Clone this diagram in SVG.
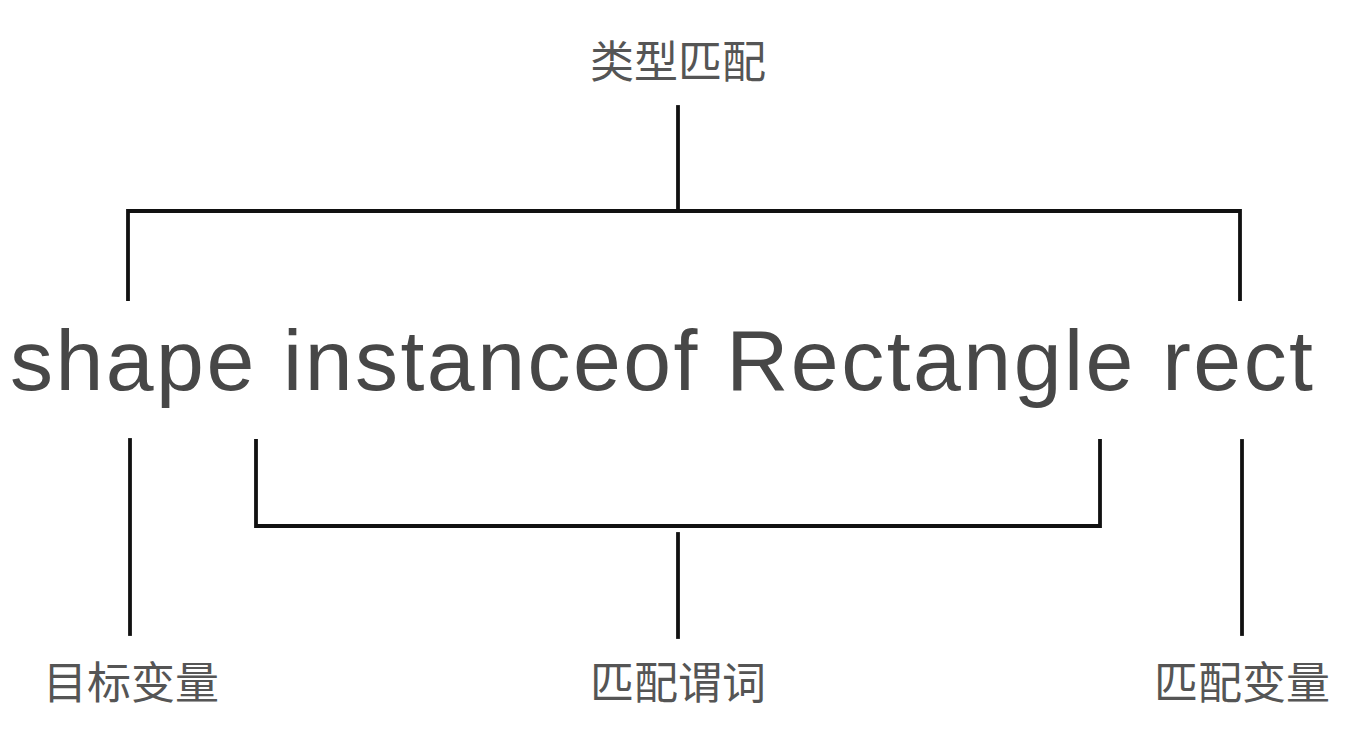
<svg xmlns="http://www.w3.org/2000/svg" width="1357" height="732" viewBox="0 0 1357 732">
<style>
.lbl{font-family:"Noto Sans CJK SC","Noto Sans",sans-serif;font-size:44px;fill:#555;text-anchor:middle}
.code{font-family:"Liberation Sans",Arial,sans-serif;font-size:86px;fill:#474747}
.ln{stroke:#111;stroke-width:3.8;fill:none;stroke-linecap:square;stroke-linejoin:miter}
</style>
<rect width="1357" height="732" fill="#fff"/>
<g id="connectors">
<path class="ln" d="M678,107 V211"/>
<path class="ln" d="M128,299 V211 H1240 V299"/>
<path class="ln" d="M130,440 V634"/>
<path class="ln" d="M256,441 V526 H1100 V441"/>
<path class="ln" d="M678,534 V637"/>
<path class="ln" d="M1242,441 V634"/>
</g>
<g id="node-top"><text class="lbl" x="678" y="78">类型匹配</text></g>
<g id="node-code"><text class="code" x="10" y="390" textLength="1303" lengthAdjust="spacing">shape instanceof Rectangle rect</text></g>
<g id="node-target"><text class="lbl" x="131" y="699">目标变量</text></g>
<g id="node-predicate"><text class="lbl" x="678" y="699">匹配谓词</text></g>
<g id="node-binding"><text class="lbl" x="1242" y="699">匹配变量</text></g>
</svg>
